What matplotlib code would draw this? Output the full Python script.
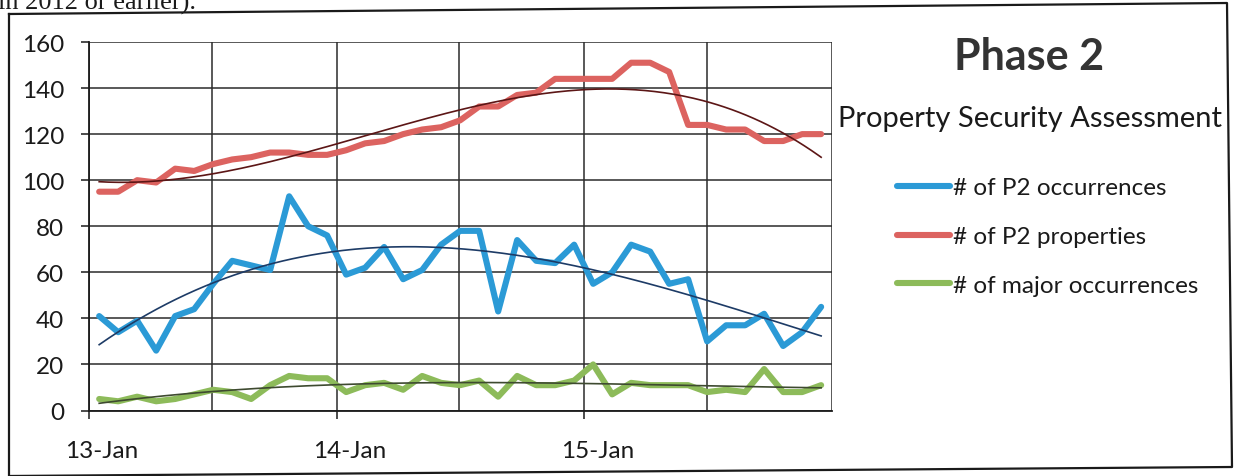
import numpy as np
import pandas as pd
import matplotlib
matplotlib.use("Agg")
import matplotlib.pyplot as plt
import matplotlib.dates as mdates
import matplotlib.transforms as mtransforms
from matplotlib.lines import Line2D
from datetime import datetime

# four-weekly reporting periods
periods = pd.date_range("2013-01-16", periods=39, freq="28D")

p2_occurrences = [41, 34, 39, 26, 41, 44, 55, 65, 63, 61,
                  93, 80, 76, 59, 62, 71, 57, 61, 72, 78,
                  78, 43, 74, 65, 64, 72, 55, 60, 72, 69,
                  55, 57, 30, 37, 37, 42, 28, 34, 45]
p2_properties = [95, 95, 100, 99, 105, 104, 107, 109, 110, 112,
                 112, 111, 111, 113, 116, 117, 120, 122, 123, 126,
                 132, 132, 137, 138, 144, 144, 144, 144, 151, 151,
                 147, 124, 124, 122, 122, 117, 117, 120, 120]
major_occurrences = [5, 4, 6, 4, 5, 7, 9, 8, 5, 11,
                     15, 14, 14, 8, 11, 12, 9, 15, 12, 11,
                     13, 6, 15, 11, 11, 13, 20, 7, 12, 11,
                     11, 11, 8, 9, 8, 18, 8, 8, 11]

series = [
    ("# of P2 occurrences", p2_occurrences, "#2b9ad6", "#1d3b66", 3),
    ("# of P2 properties", p2_properties, "#dc6360", "#5c1616", 3),
    ("# of major occurrences", major_occurrences, "#8dbb5a", "#3e4a30", 3),
]

plt.rcParams["font.family"] = ["Lato", "DejaVu Sans"]

W, H = 1235, 477
fig = plt.figure(figsize=(W / 100, H / 100), dpi=100)
ax = fig.add_axes([89 / W, 1 - 411.5 / H, (832 - 89) / W, (411.5 - 43) / H])

x = mdates.date2num(periods)
idx = np.arange(len(periods))
fine = np.linspace(idx[0], idx[-1], 300)
fine_x = np.interp(fine, idx, x)

handles = []
for label, vals, color, trend_color, deg in series:
    line, = ax.plot(x, vals, color=color, lw=4.4, solid_joinstyle="round",
                    solid_capstyle="round", label=label, zorder=3)
    handles.append(line)
    # polynomial trendline
    coef = np.polyfit(idx, vals, deg)
    ax.plot(fine_x, np.polyval(coef, fine), color=trend_color, lw=1.2, zorder=4)

ax.set_xlim(mdates.date2num(datetime(2013, 1, 1)), mdates.date2num(datetime(2016, 1, 1)))
ax.set_ylim(0, 160)
ax.set_yticks(range(0, 161, 20))

major = [datetime(2013, 1, 1), datetime(2014, 1, 1), datetime(2015, 1, 1)]
minor = [datetime(2013, 7, 1), datetime(2014, 7, 1), datetime(2015, 7, 1), datetime(2016, 1, 1)]
ax.set_xticks(mdates.date2num(major))
ax.set_xticks(mdates.date2num(minor), minor=True)
ax.xaxis.set_major_formatter(mdates.DateFormatter("%y-%b"))

grid_kw = dict(color="#2b2b2b", lw=1.1)
ax.grid(axis="y", **grid_kw)
ax.grid(axis="x", which="both", **grid_kw)
ax.set_axisbelow(True)

for side in ["top", "right"]:
    ax.spines[side].set_visible(False)
for side in ["left", "bottom"]:
    ax.spines[side].set_color("#1a1a1a")
    ax.spines[side].set_linewidth(1.3)

ax.tick_params(axis="y", length=6, width=1.1, pad=12, labelsize=17.5, colors="#1a1a1a")
ax.tick_params(axis="x", which="major", length=6, width=1.1, pad=15, labelsize=17.5,
               colors="#1a1a1a")
ax.tick_params(axis="x", which="minor", length=0)

# shift date labels into the middle of the first month
offset = mtransforms.ScaledTranslation(0.13, 0, fig.dpi_scale_trans)
for lbl in ax.get_xticklabels():
    lbl.set_transform(lbl.get_transform() + offset)

fig.text(1029 / W, 1 - 57 / H, "Phase 2", fontsize=31, fontweight="bold",
         color="#333333", ha="center", va="center")
fig.text(1030 / W, 1 - 119 / H, "Property Security Assessment", fontsize=21,
         color="#1a1a1a", ha="center", va="center")

leg = ax.legend(handles=handles, loc="center left",
                bbox_to_anchor=(897 / W, 1 - 237.5 / H), bbox_transform=fig.transFigure,
                frameon=False, fontsize=17.5, handlelength=2.2, handletextpad=0.12,
                labelspacing=1.15, borderpad=0, borderaxespad=0)
for t in leg.get_texts():
    t.set_color("#1a1a1a")

# text running in from above and the surrounding box
fig.text(-2 / W, 1 - 10 / H, "in 2012 or earlier).", fontsize=19,
         family=["Liberation Serif", "DejaVu Serif"], va="baseline", color="#1a1a1a")
bx = [9, 1227, 1232, 9, 9]
by = [15, 4, 468, 477, 15]
fig.add_artist(Line2D([v / W for v in bx], [1 - v / H for v in by],
                      color="#1a1a1a", lw=1.6))

fig.savefig("out.png", dpi=100)
